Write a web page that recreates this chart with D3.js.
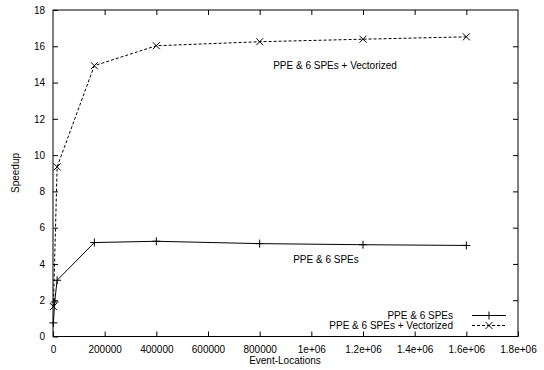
<!DOCTYPE html>
<html>
    <head>
        <title>Speedup vs Event-Locations</title>
        <script src="https://d3js.org/d3.v7.min.js"></script>
        <style>
            * {
                font-family: 'Liberation Sans', Arial, sans-serif;
            }
            body {
                margin: 0;
                background: #ffffff;
            }
            svg {
                display: block;
            }
        </style>
    </head>
    <body>
        <script>
            // data
            const plainX = [1600, 6400, 16000, 160000, 400000, 800000, 1200000, 1600000];
            const plainY = [0.75, 1.9, 3.1, 5.18, 5.25, 5.12, 5.06, 5.02];
            const vecX = [1600, 16000, 160000, 400000, 800000, 1200000, 1600000];
            const vecY = [1.65, 9.35, 14.93, 16.03, 16.25, 16.39, 16.52];
            const xTicks = [0, 200000, 400000, 600000, 800000, 1000000, 1200000, 1400000, 1600000, 1800000];
            const xTickLabels = ['0', '200000', '400000', '600000', '800000', '1e+06', '1.2e+06', '1.4e+06', '1.6e+06', '1.8e+06'];
            const yTicks = [0, 2, 4, 6, 8, 10, 12, 14, 16, 18];
            const seriesNames = ['PPE & 6 SPEs', 'PPE & 6 SPEs + Vectorized'];

            const width = 544;
            const height = 370;
            const plotLeft = 53, plotRight = 518, plotTop = 10, plotBottom = 336.5;

            const svg = d3.select('body').append('svg').attr('width', width).attr('height', height);

            const x = d3.scaleLinear().domain([0, 1800000]).range([plotLeft, plotRight]);
            const y = d3.scaleLinear().domain([0, 18]).range([plotBottom, plotTop]);

            const plain = plainX.map((v, i) => [v, plainY[i]]);
            const vec = vecX.map((v, i) => [v, vecY[i]]);

            // frame
            svg.append('rect')
                .attr('x', plotLeft).attr('y', plotTop)
                .attr('width', plotRight - plotLeft).attr('height', plotBottom - plotTop)
                .attr('fill', 'none').attr('stroke', '#000').attr('stroke-width', 1);

            // axes with inward ticks, mirrored
            const tickLen = 5;
            svg.append('g').attr('transform', `translate(0,${plotBottom})`)
                .call(d3.axisBottom(x).tickValues(xTicks).tickFormat((d, i) => xTickLabels[i]).tickSize(-tickLen).tickPadding(tickLen + 4))
                .call((g) => g.select('.domain').remove());
            svg.append('g').attr('transform', `translate(0,${plotTop})`)
                .call(d3.axisTop(x).tickValues(xTicks.slice(1, -1)).tickFormat('').tickSize(-tickLen))
                .call((g) => g.select('.domain').remove());
            svg.append('g').attr('transform', `translate(${plotLeft},0)`)
                .call(d3.axisLeft(y).tickValues(yTicks).tickSize(-tickLen).tickPadding(tickLen + 3))
                .call((g) => g.select('.domain').remove());
            svg.append('g').attr('transform', `translate(${plotRight},0)`)
                .call(d3.axisRight(y).tickValues(yTicks.slice(1, -1)).tickFormat('').tickSize(-tickLen))
                .call((g) => g.select('.domain').remove());

            svg.selectAll('.tick text').attr('font-size', 10).attr('font-family', "'Liberation Sans', Arial, sans-serif").attr('fill', '#000');
            svg.selectAll('.tick line').attr('stroke', '#000');

            // axis titles
            svg.append('text').attr('x', 285).attr('y', 364).attr('text-anchor', 'middle')
                .attr('font-size', 10).text('Event-Locations');
            svg.append('text').attr('transform', 'translate(19,173) rotate(-90)').attr('text-anchor', 'middle')
                .attr('font-size', 10).text('Speedup');

            const line = d3.line().x((d) => x(d[0])).y((d) => y(d[1]));

            svg.append('path').datum(plain).attr('d', line)
                .attr('fill', 'none').attr('stroke', '#000').attr('stroke-width', 1);
            svg.append('path').datum(vec).attr('d', line)
                .attr('fill', 'none').attr('stroke', '#000').attr('stroke-width', 1).attr('stroke-dasharray', '3,2');

            const plusPath = (cx, cy, s) => `M${cx - s},${cy}H${cx + s}M${cx},${cy - s}V${cy + s}`;
            const crossPath = (cx, cy, s) => `M${cx - s},${cy - s}L${cx + s},${cy + s}M${cx - s},${cy + s}L${cx + s},${cy - s}`;

            svg.append('g').selectAll('path').data(plain).join('path')
                .attr('d', (d) => plusPath(x(d[0]), y(d[1]), 4))
                .attr('stroke', '#000').attr('stroke-width', 1).attr('fill', 'none');
            svg.append('g').selectAll('path').data(vec).join('path')
                .attr('d', (d) => crossPath(x(d[0]), y(d[1]), 3.5))
                .attr('stroke', '#000').attr('stroke-width', 1).attr('fill', 'none');

            // in-plot labels
            svg.append('text').attr('x', 326).attr('y', 263).attr('text-anchor', 'middle')
                .attr('font-size', 10).text(seriesNames[0]);
            svg.append('text').attr('x', 335).attr('y', 69).attr('text-anchor', 'middle')
                .attr('font-size', 10).text(seriesNames[1]);

            // legend
            const legY = [315.5, 325.5];
            const lx0 = 472, lx1 = 506;
            seriesNames.forEach((name, i) => {
                svg.append('text').attr('x', 453).attr('y', legY[i] + 3.5).attr('text-anchor', 'end')
                    .attr('font-size', 10).text(name);
                svg.append('line').attr('x1', lx0).attr('x2', lx1).attr('y1', legY[i]).attr('y2', legY[i])
                    .attr('stroke', '#000').attr('stroke-width', 1)
                    .attr('stroke-dasharray', i === 1 ? '3,2' : null);
                svg.append('path')
                    .attr('d', i === 0 ? plusPath((lx0 + lx1) / 2, legY[i], 4) : crossPath((lx0 + lx1) / 2, legY[i], 3.5))
                    .attr('stroke', '#000').attr('stroke-width', 1).attr('fill', 'none');
            });
        </script>
    </body>
</html>
